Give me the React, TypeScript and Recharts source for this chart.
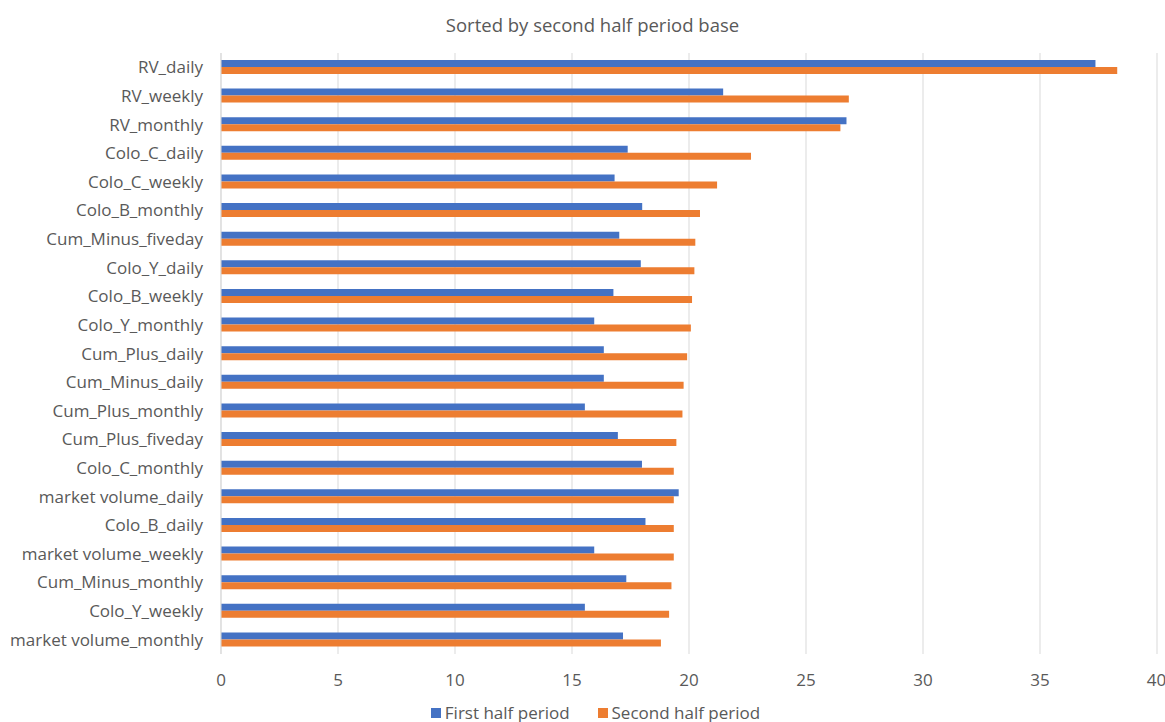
import React from 'react'
import { BarChart, Bar, XAxis, YAxis, CartesianGrid } from 'recharts'

const categories = [
  'RV_daily',
  'RV_weekly',
  'RV_monthly',
  'Colo_C_daily',
  'Colo_C_weekly',
  'Colo_B_monthly',
  'Cum_Minus_fiveday',
  'Colo_Y_daily',
  'Colo_B_weekly',
  'Colo_Y_monthly',
  'Cum_Plus_daily',
  'Cum_Minus_daily',
  'Cum_Plus_monthly',
  'Cum_Plus_fiveday',
  'Colo_C_monthly',
  'market volume_daily',
  'Colo_B_daily',
  'market volume_weekly',
  'Cum_Minus_monthly',
  'Colo_Y_weekly',
  'market volume_monthly',
]

const firstHalf = [
  37.37, 21.46, 26.73, 17.38, 16.82, 18.0, 17.02, 17.94, 16.77, 15.95, 16.36,
  16.36, 15.55, 16.96, 17.99, 19.56, 18.14, 15.95, 17.32, 15.55, 17.18,
]

const secondHalf = [
  38.3, 26.83, 26.47, 22.65, 21.2, 20.47, 20.27, 20.23, 20.13, 20.08, 19.92,
  19.77, 19.72, 19.46, 19.35, 19.35, 19.35, 19.35, 19.25, 19.15, 18.8,
]

const xTicks = [0, 5, 10, 15, 20, 25, 30, 35, 40]

const data = categories.map((name, i) => ({
  name,
  first: firstHalf[i],
  second: secondHalf[i],
}))

const FONT = '"Open Sans", sans-serif'
const TEXT = '#595959'
const BLUE = '#4472C4'
const ORANGE = '#ED7D31'

export default function App() {
  return (
    <div
      style={{
        position: 'absolute',
        left: 0,
        top: 0,
        width: 1165,
        height: 722,
        background: '#fff',
        fontFamily: FONT,
      }}
    >
      {/* title sits a little right of page centre, like the original */}
      <div
        style={{
          position: 'absolute',
          top: 12,
          left: 10,
          width: 1165,
          textAlign: 'center',
          fontSize: 18.5,
          color: TEXT,
        }}
      >
        Sorted by second half period base
      </div>
      <BarChart
        width={1165}
        height={722}
        data={data}
        layout="vertical"
        margin={{ top: 53, right: 8, bottom: 38, left: 0 }}
        barSize={7}
        barGap={0}
      >
        <CartesianGrid horizontal={false} stroke="#d9d9d9" />
        <XAxis
          type="number"
          domain={[0, 40]}
          ticks={xTicks}
          axisLine={false}
          tickLine={false}
          tick={{ fill: TEXT, fontSize: 17, fontFamily: FONT }}
          tickMargin={14}
        />
        <YAxis
          type="category"
          dataKey="name"
          width={221}
          interval={0}
          axisLine={{ stroke: '#d9d9d9' }}
          tickLine={false}
          tick={{ fill: TEXT, fontSize: 17, fontFamily: FONT }}
          tickMargin={12}
        />
        <Bar dataKey="first" name="First half period" fill={BLUE} isAnimationActive={false} />
        <Bar dataKey="second" name="Second half period" fill={ORANGE} isAnimationActive={false} />
      </BarChart>
      <div
        style={{
          position: 'absolute',
          top: 701,
          left: 13,
          width: 1165,
          display: 'flex',
          justifyContent: 'center',
          gap: 28,
          fontSize: 17,
          color: TEXT,
        }}
      >
        <span style={{ display: 'flex', alignItems: 'center' }}>
          <span style={{ width: 10, height: 10, background: BLUE, marginRight: 4 }} />
          First half period
        </span>
        <span style={{ display: 'flex', alignItems: 'center' }}>
          <span style={{ width: 10, height: 10, background: ORANGE, marginRight: 4 }} />
          Second half period
        </span>
      </div>
    </div>
  )
}
